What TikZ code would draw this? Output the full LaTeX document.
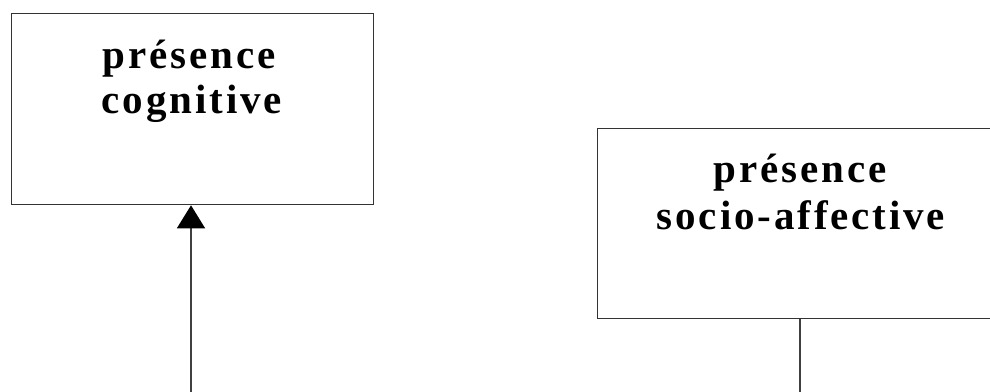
\documentclass[tikz,border=0pt]{standalone}
\usepackage{fontspec}
\setmainfont{Liberation Serif}[LetterSpace=7]
\usetikzlibrary{arrows.meta}
\begin{document}
\begin{tikzpicture}[x=1pt,y=-1pt,
  box/.style={draw=black!80, line width=1.3pt, minimum width=362pt, minimum height=191pt, anchor=north west, inner sep=0pt},
  lbl/.style={font=\fontsize{41}{46}\selectfont\bfseries, anchor=base, inner sep=0pt},
  conn/.style={draw=black!75, line width=1.3pt}]
\useasboundingbox (0,0) rectangle (990,391);
\clip (0,0) rectangle (990,391);
\fill[white] (0,0) rectangle (990,391);
\node[box] (cog) at (11,13) {};
\node[box, minimum width=406pt, minimum height=190pt] (soc) at (597,128) {};
\node[lbl] (cog1) at (189,68) {présence};
\node[lbl] (cog2) at (192,113) {cognitive};
\node[lbl] (soc1) at (800,182) {présence};
\node[lbl] (soc2) at (801,229) {socio-affective};
\coordinate (cogin) at (191,395);
\coordinate (socout) at (800,395);
\draw[conn, -{Triangle[length=23pt,width=28pt,fill=black,color=black]}] (cogin) -- (cogin |- cog.south);
\draw[conn] (socout |- soc.south) -- (socout);
\end{tikzpicture}
\end{document}
